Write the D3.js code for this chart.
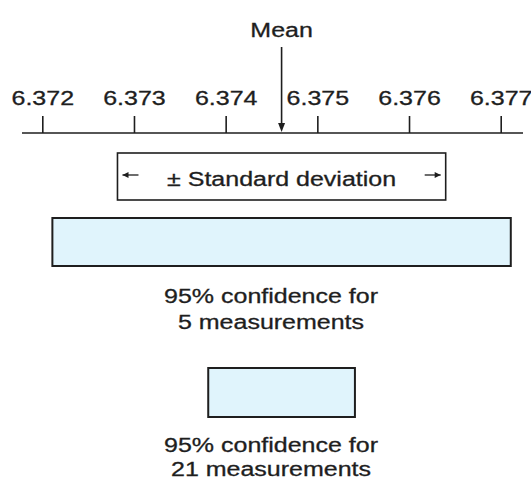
<!DOCTYPE html>
<html>
<head>
<meta charset="utf-8">
<script src="https://cdn.jsdelivr.net/npm/d3@7"></script>
<style>
  html, body { margin: 0; padding: 0; background: #fff; }
  svg { display: block; }
  text { font-family: "Liberation Sans", Arial, Helvetica, sans-serif; fill: #1e1e1e; stroke: #1e1e1e; stroke-width: 0.3px; }
</style>
</head>
<body>
<svg id="chart" width="531" height="481"></svg>
<script>
// Axis ticks (measured quantity)
const tickValues = [6.372, 6.373, 6.374, 6.375, 6.376, 6.377];
const tickLabels = ["6.372", "6.373", "6.374", "6.375", "6.376", "6.377"];

// Summary statistics of the measurements
const meanValue = 6.37461;
const stdDev = 0.00179;

// 95% confidence intervals
const ciMeasurements = [5, 21];
const ciHalfWidths = [0.0025, 0.0008];
const ciLabels = [
  ["95% confidence for", "5 measurements"],
  ["95% confidence for", "21 measurements"]
];

const svg = d3.select("#chart");
const stretch = "scale(1.25,1)";
const ink = "#1e1e1e";
const fill = "#e0f4fc";

const x = d3.scaleLinear().domain([6.372, 6.377]).range([42.3, 500.7]);

// Horizontal axis: baseline extends a little past the end ticks
const axisY = 133;
svg.append("line")
  .attr("x1", 22).attr("x2", 523)
  .attr("y1", axisY).attr("y2", axisY)
  .attr("stroke", ink).attr("stroke-width", 1.6);

const axis = d3.axisTop(x)
  .tickValues(tickValues)
  .tickFormat((d, i) => tickLabels[i])
  .tickSize(17)
  .tickPadding(11);

const gAxis = svg.append("g")
  .attr("transform", `translate(0,${axisY})`)
  .call(axis);
gAxis.select(".domain").remove();
gAxis.selectAll(".tick line").attr("stroke", ink).attr("stroke-width", 1.6);
gAxis.selectAll(".tick text")
  .attr("font-size", 20)
  .attr("font-family", "Liberation Sans, Arial, sans-serif")
  .attr("fill", ink)
  .attr("transform", stretch);

// Stretched, centred label helper
function label(xPos, yPos, str) {
  svg.append("g")
    .attr("transform", `translate(${xPos},${yPos}) ${stretch}`)
    .append("text")
    .attr("text-anchor", "middle")
    .attr("font-size", 20)
    .text(str);
}

// Mean marker
const mx = x(meanValue);
label(mx, 37, "Mean");
svg.append("line")
  .attr("x1", mx).attr("x2", mx)
  .attr("y1", 47).attr("y2", 124)
  .attr("stroke", ink).attr("stroke-width", 1.6);
svg.append("path")
  .attr("d", `M${mx - 3.5},${123} L${mx + 3.5},${123} L${mx},${132} Z`)
  .attr("fill", ink);

// ± standard deviation box
const sdTop = 153, sdBottom = 200;
const sdL = x(meanValue - stdDev), sdR = x(meanValue + stdDev);
svg.append("rect")
  .attr("x", sdL).attr("y", sdTop)
  .attr("width", sdR - sdL).attr("height", sdBottom - sdTop)
  .attr("fill", "#fff").attr("stroke", ink).attr("stroke-width", 1.6);
label(mx, 186, "\u00b1 Standard deviation");

// Small arrows pointing to each edge of the box
const arrowY = 175;
function edgeArrow(tipX, dir) {
  const tail = tipX - dir * 18;
  svg.append("line")
    .attr("x1", tail).attr("x2", tipX - dir * 2)
    .attr("y1", arrowY).attr("y2", arrowY)
    .attr("stroke", ink).attr("stroke-width", 1.3);
  svg.append("path")
    .attr("d", `M${tipX - dir * 2},${arrowY} L${tipX - dir * 8},${arrowY - 3} L${tipX - dir * 8},${arrowY + 3} Z`)
    .attr("fill", ink);
}
edgeArrow(sdL + 3, -1);
edgeArrow(sdR - 3, 1);

// Confidence interval boxes with captions
const ciBoxes = [
  { top: 218, bottom: 266, textY: [303, 329] },
  { top: 368, bottom: 417, textY: [452, 476] }
];
ciMeasurements.forEach((n, i) => {
  const lo = x(meanValue - ciHalfWidths[i]);
  const hi = x(meanValue + ciHalfWidths[i]);
  const b = ciBoxes[i];
  svg.append("rect")
    .attr("x", lo).attr("y", b.top)
    .attr("width", hi - lo).attr("height", b.bottom - b.top)
    .attr("fill", fill).attr("stroke", ink).attr("stroke-width", 2);
  ciLabels[i].forEach((line, j) => label(271, b.textY[j], line));
});
</script>
</body>
</html>
